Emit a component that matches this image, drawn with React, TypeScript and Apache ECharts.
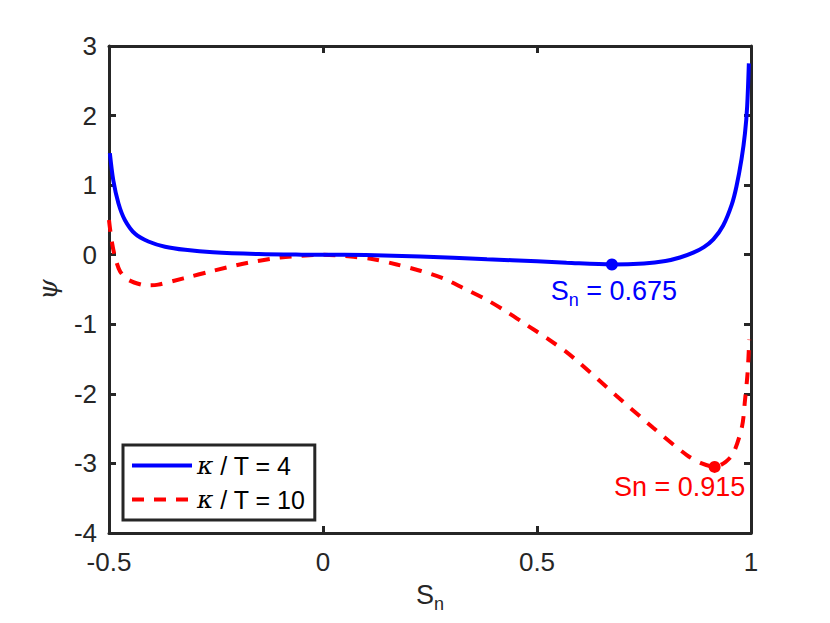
import React, { useEffect, useRef } from "react";
import * as echarts from "echarts";

const seriesNames = ["κ / T = 4", "κ / T = 10"];

// kappa/T = 4 (solid blue)
const sBlue = [-0.498, -0.49, -0.478, -0.463, -0.439, -0.408, -0.369, -0.322, -0.257, -0.15, -0.05, 0, 0.1, 0.227, 0.383, 0.5, 0.569, 0.675, 0.75, 0.8, 0.834, 0.865, 0.89, 0.912, 0.935, 0.955, 0.966, 0.978, 0.986, 0.991, 0.995];
const psiBlue = [1.46, 1.07, 0.74, 0.5, 0.3, 0.19, 0.115, 0.07, 0.035, 0.01, 0.001, 0, -0.005, -0.025, -0.065, -0.095, -0.115, -0.14, -0.125, -0.09, -0.04, 0.03, 0.11, 0.22, 0.42, 0.72, 0.98, 1.38, 1.75, 2.13, 2.75];

// kappa/T = 10 (dashed red)
const sRed = [-0.5, -0.494, -0.486, -0.474, -0.455, -0.424, -0.405, -0.385, -0.326, -0.256, -0.178, -0.1, -0.023, 0, 0.071, 0.118, 0.172, 0.227, 0.281, 0.328, 0.383, 0.429, 0.476, 0.523, 0.569, 0.6, 0.686, 0.772, 0.85, 0.885, 0.915, 0.94, 0.959, 0.979, 0.986, 0.992, 0.996];
const psiRed = [0.5, 0.21, -0.03, -0.24, -0.36, -0.43, -0.44, -0.43, -0.34, -0.23, -0.12, -0.04, -0.003, 0, -0.03, -0.065, -0.14, -0.23, -0.34, -0.48, -0.65, -0.82, -1.01, -1.2, -1.4, -1.56, -2.03, -2.49, -2.88, -3.0, -3.05, -2.98, -2.85, -2.47, -2.09, -1.7, -1.22];

// minima markers
const minBlue = [0.675, -0.14];
const minRed = [0.915, -3.05];
const minBlueLabel = "0.675";
const minRedLabel = "Sn = 0.915";

const xTicks = { min: -0.5, max: 1, interval: 0.5 };
const yTicks = { min: -4, max: 3, interval: 1 };

const AX = "#262626";
const FONT = "Liberation Sans";

export default function App() {
  const ref = useRef<HTMLDivElement>(null);
  useEffect(() => {
    if (!ref.current) return;
    const chart = echarts.init(ref.current, null, { renderer: "svg" });
    const axisCommon = {
      type: "value" as const,
      axisLine: { show: true, onZero: false, lineStyle: { color: AX, width: 3 } },
      axisTick: { show: true, inside: true, length: 7, lineStyle: { color: AX, width: 3 } },
      splitLine: { show: false },
    };
    const tickLabel = { color: AX, fontSize: 26, fontFamily: FONT };
    chart.setOption({
      animation: false,
      backgroundColor: "#ffffff",
      grid: { left: 109, right: 79, top: 46, bottom: 90 },
      legend: {
        data: seriesNames,
        orient: "vertical",
        left: 123,
        top: 445,
        itemWidth: 60,
        itemHeight: 24,
        itemGap: 9,
        padding: [8, 9, 8, 7],
        borderColor: AX,
        borderWidth: 3,
        backgroundColor: "#ffffff",
        borderRadius: 0,
        selectedMode: false,
        itemStyle: { opacity: 0 },
        lineStyle: { width: 4 },
        formatter: (name: string) => "{k|κ}" + name.slice(1),
        textStyle: {
          color: "#000000",
          fontSize: 25,
          fontFamily: FONT,
          rich: {
            k: { fontSize: 25, fontFamily: "DejaVu Serif", fontStyle: "italic", color: "#000000" },
          },
        },
      },
      xAxis: [
        {
          ...axisCommon,
          ...xTicks,
          position: "bottom",
          axisLabel: { ...tickLabel, margin: 16, formatter: (v: number) => String(v) },
          name: "{s|S}{sub|n}",
          nameLocation: "middle",
          nameGap: 44,
          nameTextStyle: {
            rich: {
              s: { fontSize: 27, fontFamily: FONT, color: AX, lineHeight: 36, verticalAlign: "middle" },
              sub: { fontSize: 18, fontFamily: FONT, color: AX, lineHeight: 17, verticalAlign: "bottom" },
            },
          },
        },
        {
          ...axisCommon,
          ...xTicks,
          position: "top",
          axisLabel: { show: false },
        },
      ],
      yAxis: [
        {
          ...axisCommon,
          ...yTicks,
          position: "left",
          axisLabel: { ...tickLabel, margin: 12 },
          name: "ψ",
          nameLocation: "middle",
          nameRotate: 90,
          nameGap: 48,
          nameTextStyle: { fontSize: 26, fontFamily: "DejaVu Serif", fontStyle: "italic", color: AX },
        },
        {
          ...axisCommon,
          ...yTicks,
          position: "right",
          axisLabel: { show: false },
        },
      ],
      series: [
        {
          name: seriesNames[0],
          type: "line",
          data: sBlue.map((s, i) => [s, psiBlue[i]]),
          smooth: 0.3,
          symbol: "none",
          lineStyle: { color: "#0000ff", width: 4 },
          itemStyle: { color: "#0000ff" },
          z: 3,
        },
        {
          name: seriesNames[1],
          type: "line",
          data: sRed.map((s, i) => [s, psiRed[i]]),
          smooth: 0.3,
          symbol: "none",
          lineStyle: { color: "#ff0000", width: 4, type: [12, 10] },
          itemStyle: { color: "#ff0000" },
          z: 2,
        },
        {
          name: "minBlue",
          type: "scatter",
          data: [minBlue],
          symbolSize: 12,
          itemStyle: { color: "#0000ff", opacity: 1 },
          silent: true,
          z: 4,
          label: {
            show: true,
            position: "inside",
            offset: [2, 27],
            formatter: "{s|S}{sub|n}{s| = " + minBlueLabel + "}",
            rich: {
              s: { fontSize: 27, fontFamily: FONT, color: "#0000ff", lineHeight: 36, verticalAlign: "middle" },
              sub: { fontSize: 18, fontFamily: FONT, color: "#0000ff", lineHeight: 17, verticalAlign: "bottom" },
            },
          },
        },
        {
          name: "minRed",
          type: "scatter",
          data: [minRed],
          symbolSize: 12,
          itemStyle: { color: "#ff0000", opacity: 1 },
          silent: true,
          z: 4,
          label: {
            show: true,
            position: "inside",
            offset: [-35, 20],
            formatter: minRedLabel,
            fontSize: 27,
            fontFamily: FONT,
            color: "#ff0000",
          },
        },
      ],
    });
    return () => chart.dispose();
  }, []);
  return (
    <div
      ref={ref}
      style={{ position: "fixed", left: 0, top: 0, width: 830, height: 623, background: "#fff" }}
    />
  );
}
